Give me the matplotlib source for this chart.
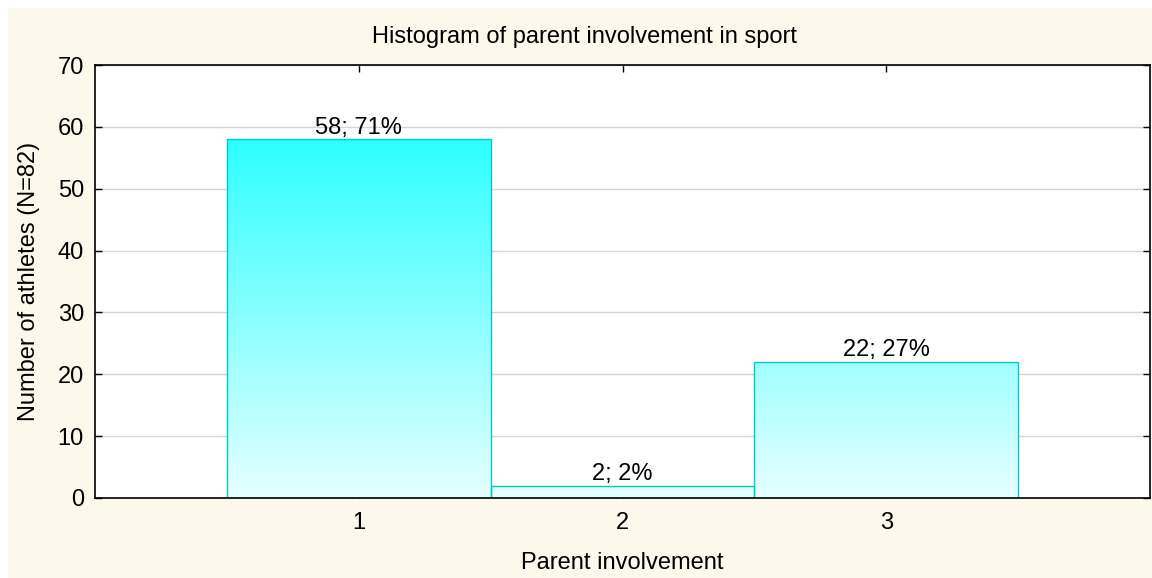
import numpy as np
import matplotlib
matplotlib.use('Agg')
import matplotlib.pyplot as plt
from matplotlib.colors import LinearSegmentedColormap
from matplotlib.patches import Rectangle

plt.rcParams['font.family'] = ['Liberation Sans', 'DejaVu Sans']

# Data
categories = [1, 2, 3]
counts = [58, 2, 22]
percents = [71, 2, 27]
y_ticks = [0, 10, 20, 30, 40, 50, 60, 70]

FS = 17

fig = plt.figure(figsize=(11.52, 5.78), dpi=100)
fig.patch.set_facecolor('white')

# beige panel behind everything (white strip top/left)
panel = Rectangle((8 / 1152, 0), 1, 1 - 8 / 578, transform=fig.transFigure,
                  facecolor='#FDF8EC', edgecolor='none', zorder=-10)
fig.patches.append(panel)

ax = fig.add_axes([95 / 1152, 1 - 498 / 578, (1150 - 95) / 1152, (498 - 65) / 578])
ax.set_facecolor('white')

cmap = LinearSegmentedColormap.from_list('cy', ['#E6FFFF', '#2EFFFF'])
grad = np.linspace(0, 1, 256).reshape(-1, 1)
top_val = max(counts)

for x, c, p in zip(categories, counts, percents):
    bars = ax.bar(x, c, width=1.0, facecolor='none', edgecolor='#00C8C8',
                  linewidth=1.0, zorder=3)
    rect = bars[0]
    im = ax.imshow(grad, cmap=cmap, aspect='auto', origin='lower',
                   extent=[x - 0.5, x + 0.5, 0, top_val], zorder=2,
                   interpolation='bilinear')
    im.set_clip_path(rect)
    ax.annotate(f'{c}; {p}%', (x, c), xytext=(0, 4), textcoords='offset points',
                ha='center', va='baseline', fontsize=FS, color='black', zorder=4)

ax.set_xlim(0, 4)
ax.set_ylim(0, 70)
ax.set_xticks(categories)
ax.set_yticks(y_ticks)
ax.tick_params(axis='both', direction='in', length=5, width=1, labelsize=FS,
               top=True, right=True, colors='black')
ax.tick_params(axis='x', pad=10)
ax.tick_params(axis='y', pad=8)
ax.yaxis.grid(True, color='#D4D4D4', linewidth=1, zorder=0)
ax.set_axisbelow(True)
for s in ax.spines.values():
    s.set_linewidth(1.2)
    s.set_color('black')
    s.set_zorder(5)

ax.set_xlabel('Parent involvement', fontsize=FS)
ax.xaxis.set_label_coords(0.5, (498 - 563) / 433)
ax.xaxis.label.set_va('center')
ax.set_ylabel('Number of athletes (N=82)', fontsize=FS)
ax.yaxis.set_label_coords((29 - 95) / 1055, 0.5)
ax.yaxis.label.set_va('center')
fig.text(584 / 1152, 1 - 43 / 578, 'Histogram of parent involvement in sport',
         ha='center', va='baseline', fontsize=FS)

fig.savefig('out.png', dpi=100, facecolor=fig.get_facecolor())
